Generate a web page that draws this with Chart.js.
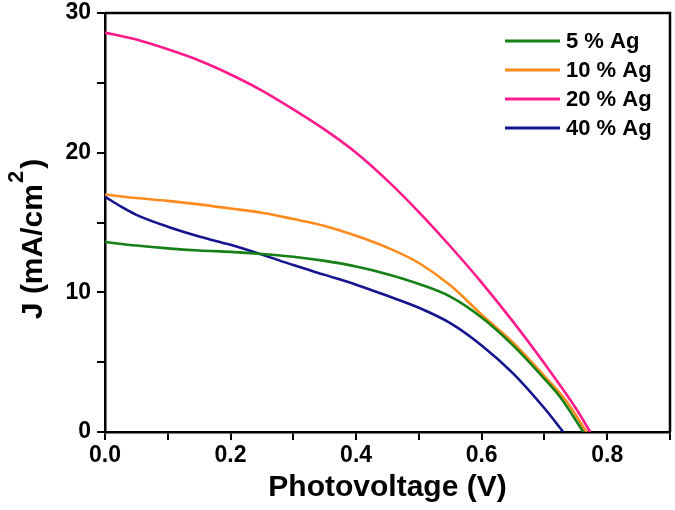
<!DOCTYPE html>
<html>
<head>
<meta charset="utf-8">
<script src="https://cdn.jsdelivr.net/npm/chart.js@4.4.1/dist/chart.umd.min.js"></script>
<style>
  html, body { margin: 0; padding: 0; background: #fff; }
  #wrap { width: 675px; height: 510px; }
</style>
</head>
<body>
<div id="wrap"><canvas id="jvChart"></canvas></div>
<script>
// J-V curves
const seriesLabels = ['5 % Ag', '10 % Ag', '20 % Ag', '40 % Ag'];

const v5 = [0, 0.05, 0.1, 0.15, 0.2, 0.25, 0.3, 0.35, 0.4, 0.45, 0.5, 0.55, 0.6, 0.65, 0.7, 0.725, 0.762];
const j5 = [13.6, 13.35, 13.15, 13.0, 12.9, 12.75, 12.55, 12.25, 11.85, 11.3, 10.6, 9.7, 8.2, 6.2, 3.8, 2.5, 0];

const v10 = [0, 0.05, 0.1, 0.15, 0.2, 0.25, 0.3, 0.35, 0.4, 0.45, 0.5, 0.55, 0.6, 0.65, 0.7, 0.735, 0.767];
const j10 = [17.0, 16.75, 16.55, 16.3, 16.0, 15.7, 15.25, 14.75, 14.05, 13.2, 12.1, 10.5, 8.4, 6.4, 4.0, 2.2, 0];

const v20 = [0, 0.05, 0.1, 0.15, 0.2, 0.25, 0.3, 0.35, 0.4, 0.45, 0.5, 0.55, 0.6, 0.65, 0.7, 0.75, 0.773];
const j20 = [28.6, 28.1, 27.4, 26.6, 25.6, 24.45, 23.1, 21.65, 20.0, 18.0, 15.75, 13.3, 10.7, 7.9, 4.9, 1.7, 0];

const v40 = [0, 0.025, 0.05, 0.1, 0.15, 0.2, 0.25, 0.3, 0.35, 0.4, 0.45, 0.5, 0.55, 0.6, 0.65, 0.7, 0.73];
const j40 = [16.85, 16.15, 15.55, 14.7, 14.0, 13.4, 12.7, 11.95, 11.25, 10.55, 9.75, 8.9, 7.8, 6.2, 4.2, 1.7, 0];

const seriesColors = ['#158015', '#ff8a1e', '#ff1a8c', '#14148f'];

const xTitle = 'Photovoltage (V)';
const yTitleMain = 'J (mA/cm';
const yTitleSup = '2';
const yTitleEnd = ')';

const pairs = (xs, ys) => xs.map((x, i) => ({ x: x, y: ys[i] }));

const FONT = '"Liberation Sans", Arial, sans-serif';

// top/right frame of the plot box
const framePlugin = {
    id: 'frame',
    afterDraw(chart) {
        const { ctx, chartArea: a } = chart;
        ctx.save();
        ctx.strokeStyle = '#000';
        ctx.lineWidth = 2.5;
        ctx.beginPath();
        ctx.moveTo(a.left, a.top);
        ctx.lineTo(a.right, a.top);
        ctx.lineTo(a.right, a.bottom);
        ctx.stroke();
        ctx.restore();
    }
};

// legend drawn inside the plot, top right
const insideLegend = {
    id: 'insideLegend',
    afterDraw(chart) {
        const { ctx, chartArea: a } = chart;
        ctx.save();
        ctx.font = 'bold 22px ' + FONT;
        ctx.textBaseline = 'middle';
        ctx.fillStyle = '#000';
        chart.data.datasets.forEach((ds, i) => {
            const y = a.top + 28 + i * 29;
            const x0 = a.right - 165;
            ctx.strokeStyle = ds.borderColor;
            ctx.lineWidth = 3;
            ctx.beginPath();
            ctx.moveTo(x0, y);
            ctx.lineTo(x0 + 55, y);
            ctx.stroke();
            ctx.fillText(ds.label, x0 + 61, y + 1);
        });
        ctx.restore();
    }
};

// rotated y title with a raised superscript
const yTitlePlugin = {
    id: 'yTitle',
    afterDraw(chart) {
        const { ctx, chartArea: a } = chart;
        ctx.save();
        ctx.translate(31, (a.top + a.bottom) / 2 + 18);
        ctx.rotate(-Math.PI / 2);
        ctx.fillStyle = '#000';
        ctx.textBaseline = 'alphabetic';
        ctx.font = 'bold 30px ' + FONT;
        const w1 = ctx.measureText(yTitleMain).width;
        ctx.font = 'bold 22px ' + FONT;
        const w2 = ctx.measureText(yTitleSup).width;
        ctx.font = 'bold 30px ' + FONT;
        const w3 = ctx.measureText(yTitleEnd).width;
        const start = -(w1 + w2 + w3) / 2;
        ctx.fillText(yTitleMain, start, 11);
        ctx.font = 'bold 22px ' + FONT;
        ctx.fillText(yTitleSup, start + w1 + 1, -8);
        ctx.font = 'bold 30px ' + FONT;
        ctx.fillText(yTitleEnd, start + w1 + w2 + 3, 11);
        ctx.restore();
    }
};

const initJVChart = () => {
    const ctx = document.getElementById('jvChart').getContext('2d');
    const xs = [v5, v10, v20, v40];
    const ys = [j5, j10, j20, j40];
    new Chart(ctx, {
        type: 'line',
        data: {
            datasets: seriesLabels.map((label, i) => ({
                label: label,
                data: pairs(xs[i], ys[i]),
                borderColor: seriesColors[i],
                backgroundColor: seriesColors[i],
                borderWidth: 2.6,
                pointRadius: 0,
                fill: false,
                cubicInterpolationMode: 'monotone'
            }))
        },
        options: {
            responsive: true,
            maintainAspectRatio: false,
            animation: false,
            layout: { padding: { top: 13, right: 5, left: 0, bottom: 0 } },
            plugins: {
                legend: { display: false },
                tooltip: { enabled: false }
            },
            scales: {
                x: {
                    type: 'linear',
                    min: 0,
                    max: 0.9,
                    afterFit: (s) => { s.height = 78; },
                    border: { color: '#000', width: 2.5 },
                    grid: { drawOnChartArea: false, color: '#000', lineWidth: 2, tickLength: 8 },
                    ticks: {
                        stepSize: 0.1,
                        color: '#000',
                        padding: 2,
                        maxRotation: 0,
                        autoSkip: false,
                        font: { family: FONT, size: 23, weight: 'bold' },
                        callback: (v) => (Math.round(v * 10) % 2 === 0 && v < 0.85) ? v.toFixed(1) : ''
                    },
                    title: {
                        display: true,
                        text: xTitle,
                        color: '#000',
                        padding: { top: 0, bottom: 4 },
                        font: { family: FONT, size: 30, weight: 'bold' }
                    }
                },
                y: {
                    min: 0,
                    max: 30,
                    afterFit: (s) => { s.width = 105; s.paddingTop = 0; },
                    border: { color: '#000', width: 2.5 },
                    grid: { drawOnChartArea: false, color: '#000', lineWidth: 2, tickLength: 8 },
                    ticks: {
                        stepSize: 5,
                        color: '#000',
                        padding: 6,
                        font: { family: FONT, size: 23, weight: 'bold' },
                        callback: (v) => (v % 10 === 0) ? String(v) : ''
                    }
                }
            }
        },
        plugins: [framePlugin, insideLegend, yTitlePlugin]
    });
};

document.addEventListener('DOMContentLoaded', initJVChart);
</script>
</body>
</html>
